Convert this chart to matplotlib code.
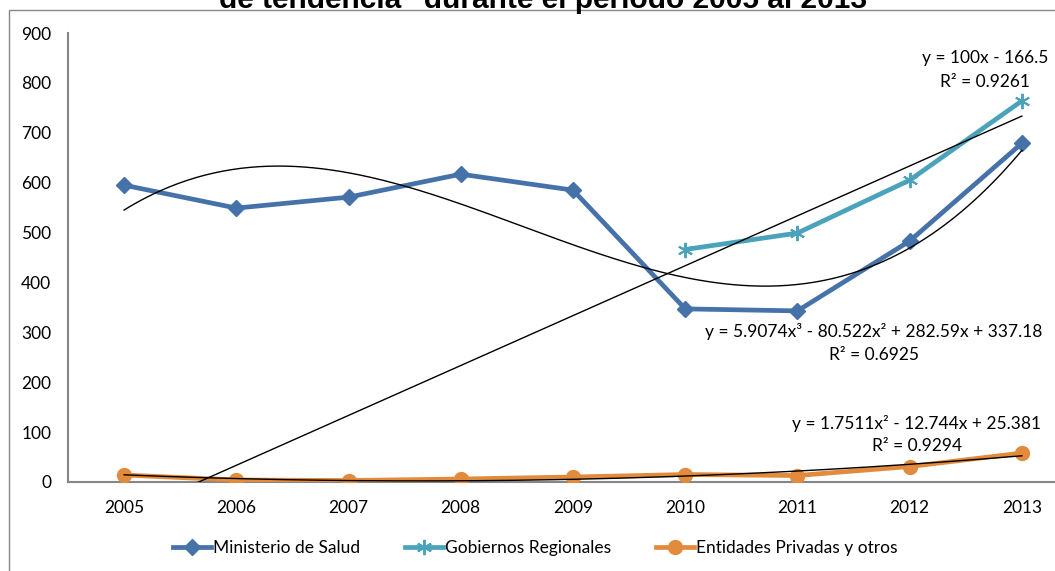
import numpy as np
import matplotlib.pyplot as plt
from matplotlib.patches import Rectangle

plt.rcParams['font.family'] = ['Lato', 'DejaVu Sans']

# ---------- datos ----------
years = ['2005', '2006', '2007', '2008', '2009', '2010', '2011', '2012', '2013']
minsa = [595, 549, 571, 617, 585, 347, 343, 483, 679]
gob_reg_years = ['2010', '2011', '2012', '2013']
gob_reg = [466, 499, 605, 764]
privadas = [14, 4, 3, 6, 10, 15, 13, 31, 58]

# coeficientes de las lineas de tendencia (x = 1..9)
coef_minsa = [5.9074, -80.522, 282.59, 337.18]
r2_minsa = 0.6925
coef_gob = [100, -166.5]
r2_gob = 0.9261
coef_priv = [1.7511, -12.744, 25.381]
r2_priv = 0.9294

c_minsa = '#4672AA'
c_gob = '#4AA3BA'
c_priv = '#E38B3D'
c_axis = '#868686'
fs = 12.5

W, H = 1055, 571
fig = plt.figure(figsize=(W / 100, H / 100), dpi=100)
ax = fig.add_axes([68 / W, (H - 482) / H, 1010 / W, 449 / H])

x = np.arange(1, len(years) + 1)
x_gob = np.array([years.index(y) + 1 for y in gob_reg_years])

ax.plot(x, minsa, color=c_minsa, lw=3.4, marker='D', ms=8.5,
        label='Ministerio de Salud', zorder=3)
ax.plot(x_gob, gob_reg, color=c_gob, lw=3.4, marker=(6, 2, 0), ms=11,
        mew=1.4, label='Gobiernos Regionales', zorder=3)
ax.plot(x, privadas, color=c_priv, lw=3.4, marker='o', ms=10,
        label='Entidades Privadas y otros', zorder=3)

# lineas de tendencia
xs = np.linspace(1, 9, 300)
ax.plot(xs, np.polyval(coef_minsa, xs), color='black', lw=1, zorder=4)
ax.plot(xs, np.polyval(coef_gob, xs), color='black', lw=1, zorder=4)
ax.plot(xs, np.polyval(coef_priv, xs), color='black', lw=1, zorder=4)

eq_kw = dict(ha='center', va='center', fontsize=fs, color='black')
fig.text(985 / W, 1 - 58 / H, 'y = 100x - 166.5', **eq_kw)
fig.text(985 / W, 1 - 82 / H, f'R² = {r2_gob}', **eq_kw)
fig.text(874 / W, 1 - 332 / H, 'y = 5.9074x³ - 80.522x² + 282.59x + 337.18', **eq_kw)
fig.text(874 / W, 1 - 355 / H, f'R² = {r2_minsa}', **eq_kw)
fig.text(917 / W, 1 - 423 / H, 'y = 1.7511x² - 12.744x + 25.381', **eq_kw)
fig.text(917 / W, 1 - 446 / H, f'R² = {r2_priv}', **eq_kw)

ax.set_xlim(0.5, 9.5)
ax.set_ylim(0, 900)
ax.set_xticks(x)
ax.set_xticklabels(years)
ax.set_yticks(range(0, 901, 100))
ax.tick_params(axis='both', length=0, labelsize=fs)
ax.tick_params(axis='y', pad=12)
ax.tick_params(axis='x', pad=13)
for s in ['top', 'right']:
    ax.spines[s].set_visible(False)
for s in ['left', 'bottom']:
    ax.spines[s].set_color(c_axis)
    ax.spines[s].set_linewidth(1.5)

fig.legend(loc='center', bbox_to_anchor=(535 / W, 1 - 548 / H), ncol=3,
           frameon=False, fontsize=fs, handlelength=2.2, handletextpad=0.1,
           columnspacing=2.6)

# marco del grafico y titulo
fig.patches.append(Rectangle((8.5 / W, -0.1), 1.2, 1.1 - 10 / H,
                             transform=fig.transFigure, fill=False,
                             edgecolor=c_axis, lw=1))
fig.text(543 / W, 1 - 8 / H, 'de tendencia" durante el periodo 2005 al 2013',
         ha='center', va='baseline', fontsize=21.5, fontweight='bold',
         family=['Liberation Sans', 'DejaVu Sans'])

fig.savefig('out.png', dpi=100)
